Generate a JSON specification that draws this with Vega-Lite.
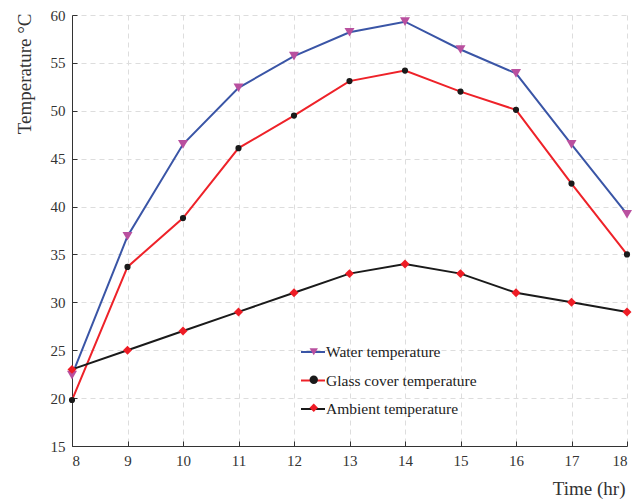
{
  "$schema": "https://vega.github.io/schema/vega-lite/v6.json",
  "width": 555,
  "height": 431,
  "autosize": {"type": "none"},
  "padding": {"left": 72, "top": 15, "right": 6, "bottom": 54},
  "background": "white",
  "config": {
    "view": {"stroke": null},
    "font": "Liberation Serif",
    "axis": {
      "labelFont": "Liberation Serif",
      "titleFont": "Liberation Serif",
      "labelFontSize": 15,
      "titleFontSize": 19,
      "titleFontWeight": "normal",
      "labelColor": "#333333",
      "titleColor": "#333333",
      "domainColor": "#333333",
      "tickColor": "#333333",
      "gridColor": "#dddddd",
      "gridDash": [5, 4],
      "gridWidth": 1
    },
    "legend": {
      "labelFont": "Liberation Serif",
      "labelFontSize": 15.5,
      "labelColor": "#222222"
    }
  },
  "data": {
    "values": [
      {"time": 8, "series": "Water temperature", "temp": 22.4},
      {"time": 9, "series": "Water temperature", "temp": 36.9},
      {"time": 10, "series": "Water temperature", "temp": 46.5},
      {"time": 11, "series": "Water temperature", "temp": 52.4},
      {"time": 12, "series": "Water temperature", "temp": 55.7},
      {"time": 13, "series": "Water temperature", "temp": 58.2},
      {"time": 14, "series": "Water temperature", "temp": 59.3},
      {"time": 15, "series": "Water temperature", "temp": 56.4},
      {"time": 16, "series": "Water temperature", "temp": 53.9},
      {"time": 17, "series": "Water temperature", "temp": 46.5},
      {"time": 18, "series": "Water temperature", "temp": 39.2},
      {"time": 8, "series": "Glass cover temperature", "temp": 19.8},
      {"time": 9, "series": "Glass cover temperature", "temp": 33.7},
      {"time": 10, "series": "Glass cover temperature", "temp": 38.8},
      {"time": 11, "series": "Glass cover temperature", "temp": 46.1},
      {"time": 12, "series": "Glass cover temperature", "temp": 49.5},
      {"time": 13, "series": "Glass cover temperature", "temp": 53.1},
      {"time": 14, "series": "Glass cover temperature", "temp": 54.2},
      {"time": 15, "series": "Glass cover temperature", "temp": 52.0},
      {"time": 16, "series": "Glass cover temperature", "temp": 50.1},
      {"time": 17, "series": "Glass cover temperature", "temp": 42.4},
      {"time": 18, "series": "Glass cover temperature", "temp": 35.0},
      {"time": 8, "series": "Ambient  temperature", "temp": 23},
      {"time": 9, "series": "Ambient  temperature", "temp": 25},
      {"time": 10, "series": "Ambient  temperature", "temp": 27},
      {"time": 11, "series": "Ambient  temperature", "temp": 29},
      {"time": 12, "series": "Ambient  temperature", "temp": 31},
      {"time": 13, "series": "Ambient  temperature", "temp": 33},
      {"time": 14, "series": "Ambient  temperature", "temp": 34},
      {"time": 15, "series": "Ambient  temperature", "temp": 33},
      {"time": 16, "series": "Ambient  temperature", "temp": 31},
      {"time": 17, "series": "Ambient  temperature", "temp": 30},
      {"time": 18, "series": "Ambient  temperature", "temp": 29}
    ]
  },
  "encoding": {
    "x": {
      "field": "time",
      "type": "quantitative",
      "scale": {"domain": [8, 18], "nice": false, "zero": false},
      "axis": {
        "values": [8, 9, 10, 11, 12, 13, 14, 15, 16, 17, 18],
        "title": "Time (hr)",
        "tickSize": -5,
        "labelPadding": 12,
        "titleAnchor": "end",
        "titleX": 553,
        "titleY": 42,
        "titleAlign": "right",
        "titleBaseline": "middle"
      }
    },
    "y": {
      "field": "temp",
      "type": "quantitative",
      "scale": {"domain": [15, 60], "nice": false, "zero": false},
      "axis": {
        "values": [15, 20, 25, 30, 35, 40, 45, 50, 55, 60],
        "title": "Temperature °C",
        "tickSize": -5,
        "labelPadding": 12,
        "titleAngle": -90,
        "titleX": -48,
        "titleY": -2,
        "titleAlign": "right",
        "titleBaseline": "middle"
      }
    }
  },
  "layer": [
    {
      "mark": {"type": "line", "strokeWidth": 2},
      "encoding": {
        "stroke": {
          "field": "series",
          "type": "nominal",
          "scale": {
            "domain": ["Water temperature", "Glass cover temperature", "Ambient  temperature"],
            "range": ["#3a55a6", "#ee2229", "#1a1a1a"]
          },
          "legend": {
            "title": null,
            "orient": "none",
            "legendX": 228,
            "legendY": 324,
            "padding": 0,
            "symbolType": "stroke",
            "symbolSize": 576,
            "symbolStrokeWidth": 2,
            "rowPadding": 6.5,
            "labelOffset": 0
          }
        }
      }
    },
    {
      "mark": {"type": "point", "filled": true, "opacity": 1},
      "encoding": {
        "shape": {
          "field": "series",
          "type": "nominal",
          "sort": ["Water temperature", "Glass cover temperature", "Ambient  temperature"],
          "scale": {"range": ["triangle-down", "circle", "diamond"]},
          "legend": {
            "title": null,
            "orient": "none",
            "legendX": 234,
            "legendY": 329,
            "padding": 0,
            "labelExpr": "''",
            "rowPadding": 11,
            "symbolSize": 70,
            "symbolStrokeWidth": 0,
            "symbolOpacity": 1,
            "symbolFillColor": {"expr": "scale('fill', datum.value)"}
          }
        },
        "fill": {
          "field": "series",
          "type": "nominal",
          "sort": ["Water temperature", "Glass cover temperature", "Ambient  temperature"],
          "scale": {"range": ["#b9509f", "#1a1a1a", "#ee1c25"]},
          "legend": null
        },
        "size": {
          "field": "series",
          "type": "nominal",
          "sort": ["Water temperature", "Glass cover temperature", "Ambient  temperature"],
          "scale": {"type": "ordinal", "range": [100, 38, 80]},
          "legend": null
        }
      }
    }
  ]
}
